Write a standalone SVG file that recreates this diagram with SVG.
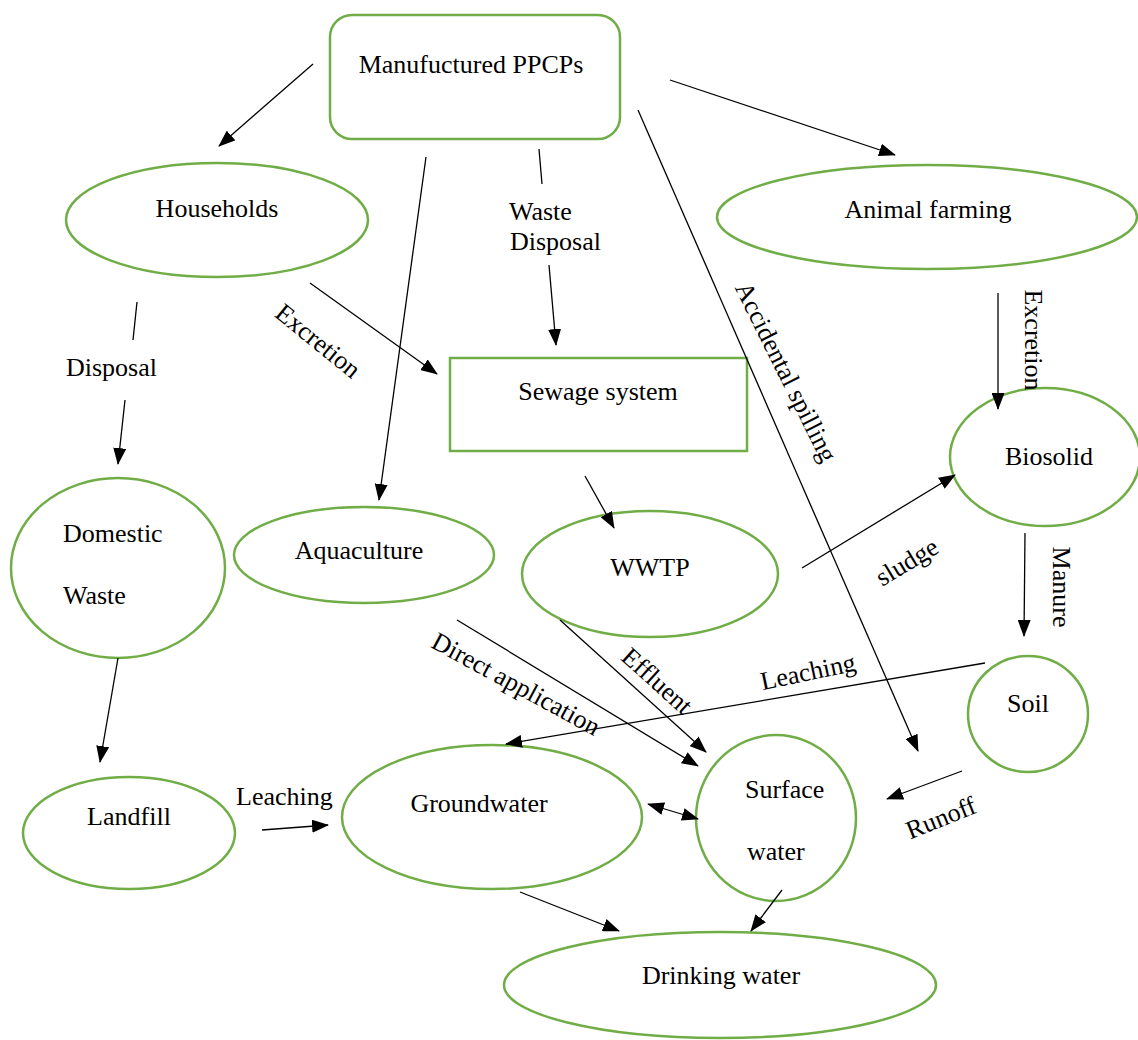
<svg xmlns="http://www.w3.org/2000/svg" width="1138" height="1040" viewBox="0 0 1138 1040">
<style>
.n{fill:#fff;stroke:#70AD47;stroke-width:2.5}
.t{font-family:"Liberation Serif","Times New Roman",serif;font-size:26px;fill:#000}
.c{stroke:#000;stroke-width:1.3;fill:none}
.a{marker-end:url(#ah)}
</style>
<defs>
<marker id="ah" markerUnits="userSpaceOnUse" markerWidth="17" markerHeight="13" refX="16" refY="6.5" orient="auto-start-reverse" viewBox="0 0 17 13">
<path d="M0,0 L17,6.5 L0,13 z" fill="#000"/>
</marker>
</defs>
<rect width="1138" height="1040" fill="#fff"/>
<g id="nodes">
<g id="ppcps"><rect class="n" x="330" y="15" width="290" height="124" rx="22"/><text class="t" x="471" y="73" text-anchor="middle">Manufuctured PPCPs</text></g>
<g id="households"><ellipse class="n" cx="217" cy="220" rx="151" ry="57"/><text class="t" x="217" y="217" text-anchor="middle">Households</text></g>
<g id="animal"><ellipse class="n" cx="927" cy="217" rx="210" ry="52"/><text class="t" x="928" y="218" text-anchor="middle">Animal farming</text></g>
<g id="sewage"><rect class="n" x="450" y="358" width="297" height="93"/><text class="t" x="598" y="400" text-anchor="middle">Sewage system</text></g>
<g id="biosolid"><ellipse class="n" cx="1045" cy="457" rx="95" ry="69"/><text class="t" x="1049" y="465" text-anchor="middle">Biosolid</text></g>
<g id="domestic"><ellipse class="n" cx="118" cy="568" rx="107" ry="90"/><text class="t" x="63" y="542">Domestic</text><text class="t" x="63" y="604">Waste</text></g>
<g id="aquaculture"><ellipse class="n" cx="364" cy="555" rx="130" ry="48"/><text class="t" x="359" y="559" text-anchor="middle">Aquaculture</text></g>
<g id="wwtp"><ellipse class="n" cx="650" cy="574" rx="128" ry="63"/><text class="t" x="650" y="576" text-anchor="middle">WWTP</text></g>
<g id="soil"><ellipse class="n" cx="1028" cy="714" rx="60" ry="58"/><text class="t" x="1028" y="712" text-anchor="middle">Soil</text></g>
<g id="landfill"><ellipse class="n" cx="129" cy="833" rx="106" ry="56"/><text class="t" x="129" y="825" text-anchor="middle">Landfill</text></g>
<g id="groundwater"><ellipse class="n" cx="492" cy="817" rx="150" ry="72"/><text class="t" x="479" y="812" text-anchor="middle">Groundwater</text></g>
<g id="surface"><ellipse class="n" cx="776" cy="818" rx="80" ry="83"/><text class="t" x="745" y="798">Surface</text><text class="t" x="747" y="860">water</text></g>
<g id="drinking"><ellipse class="n" cx="720" cy="985" rx="216" ry="53"/><text class="t" x="721" y="984" text-anchor="middle">Drinking water</text></g>
</g>
<g id="connectors">
<line class="c a" x1="313" y1="64" x2="219" y2="146"/>
<line class="c a" x1="426" y1="157" x2="379" y2="500"/>
<line class="c" x1="539" y1="149" x2="542" y2="184"/>
<line class="c a" x1="549" y1="265" x2="556" y2="345"/>
<line class="c a" x1="638" y1="110" x2="918" y2="751"/>
<line class="c a" x1="670" y1="80" x2="895" y2="155"/>
<line class="c a" x1="310" y1="283" x2="437" y2="374"/>
<line class="c" x1="137" y1="302" x2="133" y2="340"/>
<line class="c a" x1="125" y1="400" x2="118" y2="464"/>
<line class="c a" x1="998" y1="293" x2="998" y2="409"/>
<line class="c a" x1="1025" y1="533" x2="1024" y2="636"/>
<line class="c a" x1="802" y1="568" x2="955" y2="475"/>
<line class="c a" x1="585" y1="476" x2="614" y2="528"/>
<line class="c a" x1="560" y1="620" x2="706" y2="752"/>
<line class="c a" x1="457" y1="620" x2="698" y2="766"/>
<line class="c a" x1="985" y1="663" x2="506" y2="744"/>
<line class="c a" x1="962" y1="771" x2="887" y2="799"/>
<line class="c a" x1="118" y1="658" x2="100" y2="762"/>
<line class="c a" x1="262" y1="830" x2="328" y2="825"/>
<line class="c a" x1="648" y1="804" x2="698" y2="819" marker-start="url(#ah)"/>
<line class="c a" x1="520" y1="892" x2="619" y2="931"/>
<line class="c a" x1="782" y1="890" x2="751" y2="931"/>
<g id="labels">
<text class="t" x="509" y="220">Waste</text>
<text class="t" x="510" y="250">Disposal</text>
<text class="t" x="66" y="376">Disposal</text>
<text class="t" x="236" y="805">Leaching</text>
<text class="t" text-anchor="middle" dominant-baseline="central" transform="translate(318,341) rotate(39)">Excretion</text>
<text class="t" text-anchor="middle" dominant-baseline="central" transform="translate(786,372) rotate(63.5)">Accidental spilling</text>
<text class="t" text-anchor="middle" transform="translate(1025,340) rotate(90)">Excretion</text>
<text class="t" text-anchor="middle" transform="translate(1053,587) rotate(90)">Manure</text>
<text class="t" text-anchor="middle" dominant-baseline="central" transform="translate(907,562) rotate(-31)">sludge</text>
<text class="t" text-anchor="middle" dominant-baseline="central" transform="translate(657,681) rotate(42)">Effluent</text>
<text class="t" text-anchor="middle" dominant-baseline="central" transform="translate(516,684) rotate(28.5)">Direct application</text>
<text class="t" text-anchor="middle" dominant-baseline="central" transform="translate(808,672) rotate(-12)">Leaching</text>
<text class="t" text-anchor="middle" dominant-baseline="central" transform="translate(941,818) rotate(-22)">Runoff</text>
</g>
</g>
</svg>
